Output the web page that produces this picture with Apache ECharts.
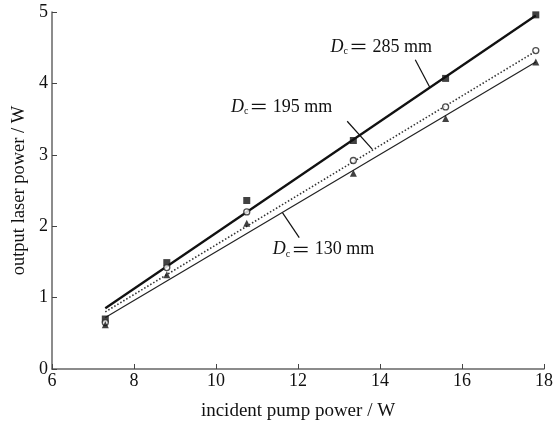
<!DOCTYPE html>
<html><head><meta charset="utf-8">
<script src="https://cdn.jsdelivr.net/npm/echarts@6/dist/echarts.min.js"></script>
<style>html,body{margin:0;padding:0;background:#fff}#c{width:556px;height:426px}</style>
</head><body><div id="c"></div>
<script>
// Data
const pumpPower = [7.3, 8.8, 10.75, 13.35, 15.6, 17.8];
const power285 = [0.70, 1.49, 2.36, 3.20, 4.07, 4.96];
const power195 = [0.65, 1.42, 2.20, 2.92, 3.67, 4.46];
const power130 = [0.62, 1.32, 2.04, 2.74, 3.51, 4.30];
// Fitted lines (end points)
const fitX = [7.3, 17.8];
const fit285 = [0.85, 4.95];
const fit195 = [0.80, 4.45];
const fit130 = [0.72, 4.30];
const xTicks = [6, 8, 10, 12, 14, 16, 18];
const yTicks = [0, 1, 2, 3, 4, 5];
// Annotation texts and leader lines (data coordinates)
const labels = [
  {d: '285', at: [14.03, 4.51], leader: [[14.86, 4.33], [15.22, 3.94]]},
  {d: '195', at: [11.6, 3.67], leader: [[13.20, 3.47], [13.81, 3.08]]},
  {d: '130', at: [12.62, 1.67], leader: [[12.03, 1.84], [11.62, 2.19]]}
];

const font = '"Liberation Serif", "DejaVu Serif", "Noto Sans CJK SC", serif';
const zip = (xs, ys) => xs.map((x, i) => [x, ys[i]]);

const chart = echarts.init(document.getElementById('c'), null, {renderer: 'canvas'});
const txtStyle = {
  color: '#111', fontFamily: font, fontSize: 18,
  rich: {
    d: {fontStyle: 'italic', fontFamily: font, fontSize: 18, color: '#111'},
    c: {fontFamily: font, fontSize: 10, color: '#111', verticalAlign: 'bottom', padding: [9, 1, 0, 0]},
    e: {fontFamily: '"Noto Sans CJK SC", sans-serif', fontSize: 19, color: '#111'},
    t: {fontFamily: font, fontSize: 18, color: '#111'}
  }
};
chart.setOption({
  animation: false,
  backgroundColor: '#fff',
  grid: {left: 52, right: 10, top: 12, bottom: 56.5},
  xAxis: {
    type: 'value', min: xTicks[0], max: xTicks[xTicks.length - 1], interval: 2,
    name: 'incident pump power / W', nameLocation: 'middle', nameGap: 33,
    nameTextStyle: {fontFamily: font, fontSize: 19, color: '#111'},
    axisLine: {lineStyle: {color: '#666', width: 1.5}},
    axisTick: {inside: true, length: 5, lineStyle: {color: '#444'}},
    axisLabel: {fontFamily: font, fontSize: 18, color: '#111', margin: 3},
    splitLine: {show: false}
  },
  yAxis: {
    type: 'value', min: yTicks[0], max: yTicks[yTicks.length - 1], interval: 1,
    name: 'output laser power / W', nameLocation: 'middle', nameGap: 24,
    nameTextStyle: {fontFamily: font, fontSize: 18.5, color: '#111'},
    axisLine: {show: true, lineStyle: {color: '#666', width: 1.5}},
    axisTick: {show: true, inside: true, length: 5, lineStyle: {color: '#444'}},
    axisLabel: {fontFamily: font, fontSize: 18, color: '#111', margin: 4},
    splitLine: {show: false}
  },
  series: [
    {type: 'line', data: zip(fitX, fit285), symbol: 'none', lineStyle: {color: '#111', width: 2.3}, z: 2},
    {type: 'line', data: zip(fitX, fit195), symbol: 'none', lineStyle: {color: '#333', width: 1.6, type: [1.5, 2]}, z: 2},
    {type: 'line', data: zip(fitX, fit130), symbol: 'none', lineStyle: {color: '#222', width: 1.2}, z: 2},
    {type: 'scatter', data: zip(pumpPower, power285), symbol: 'rect', symbolSize: 7, itemStyle: {color: '#111'}, z: 3},
    {type: 'scatter', data: zip(pumpPower, power195), symbol: 'circle', symbolSize: 6, itemStyle: {color: '#fff', borderColor: '#222', borderWidth: 1.3}, z: 3},
    {type: 'scatter', data: zip(pumpPower, power130), symbol: 'triangle', symbolSize: 7, itemStyle: {color: '#111'}, z: 3},
    {
      type: 'scatter', data: [], silent: true,
      markLine: {
        silent: true, symbol: ['none', 'none'], label: {show: false},
        lineStyle: {color: '#111', width: 1.2, type: 'solid'},
        data: labels.map(l => [{coord: l.leader[0]}, {coord: l.leader[1]}])
      },
      markPoint: {
        silent: true, symbol: 'rect', symbolSize: 1, itemStyle: {color: 'rgba(0,0,0,0)'},
        label: Object.assign({show: true, position: 'inside'}, txtStyle),
        data: labels.map(l => ({
          coord: l.at,
          label: Object.assign({formatter: '{d|D}{c|c}{e|＝}{t| ' + l.d + ' mm}'}, txtStyle)
        }))
      }
    }
  ]
});
</script></body></html>
